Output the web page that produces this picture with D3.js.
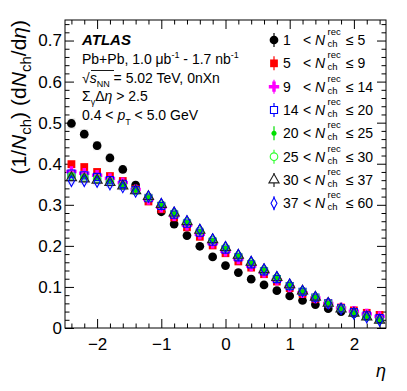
<!DOCTYPE html>
<html><head><meta charset="utf-8">
<script src="https://cdn.jsdelivr.net/npm/d3@7"></script>
<style>body{margin:0;background:#fff}svg{display:block;font-family:"Liberation Sans",Arial,sans-serif}</style>
</head><body><svg id="c" width="407" height="391"></svg>
<script>
const eta = [-2.4,-2.2,-2.0,-1.8,-1.6,-1.4,-1.2,-1.0,-0.8,-0.6,-0.4,-0.2,0.0,0.2,0.4,0.6,0.8,1.0,1.2,1.4,1.6,1.8,2.0,2.2,2.4];
const s1  = [0.498,0.472,0.444,0.414,0.386,0.348,0.312,0.283,0.253,0.225,0.199,0.173,0.152,0.135,0.119,0.105,0.091,0.078,0.067,0.057,0.047,0.040,0.035,0.028,0.022];
const s2  = [0.399,0.392,0.380,0.370,0.358,0.338,0.308,0.289,0.269,0.245,0.222,0.201,0.182,0.162,0.147,0.131,0.113,0.097,0.083,0.071,0.060,0.050,0.043,0.037,0.032];
const s3  = [0.381,0.377,0.372,0.364,0.354,0.337,0.313,0.294,0.273,0.250,0.228,0.206,0.187,0.168,0.151,0.135,0.117,0.100,0.086,0.073,0.060,0.049,0.041,0.034,0.028];
const s4  = [0.376,0.372,0.368,0.360,0.351,0.336,0.316,0.297,0.276,0.254,0.232,0.210,0.191,0.172,0.155,0.138,0.119,0.102,0.088,0.074,0.060,0.048,0.039,0.031,0.024];
const s5  = [0.373,0.369,0.366,0.358,0.349,0.335,0.318,0.299,0.278,0.257,0.235,0.213,0.194,0.175,0.158,0.141,0.121,0.104,0.089,0.075,0.060,0.047,0.037,0.028,0.020];
const s6  = [0.370,0.366,0.363,0.356,0.347,0.334,0.318,0.300,0.279,0.258,0.236,0.214,0.195,0.176,0.159,0.141,0.122,0.104,0.089,0.075,0.060,0.047,0.036,0.027,0.019];
const s7  = [0.366,0.363,0.360,0.354,0.346,0.334,0.320,0.301,0.280,0.259,0.238,0.215,0.196,0.177,0.160,0.142,0.123,0.105,0.090,0.075,0.060,0.046,0.036,0.027,0.019];
const s8  = [0.358,0.358,0.356,0.350,0.343,0.332,0.320,0.302,0.281,0.260,0.239,0.216,0.197,0.178,0.161,0.143,0.124,0.106,0.090,0.075,0.060,0.046,0.035,0.026,0.018];
const binLo = ["1","5","9","14","20","25","30","37"];
const binHi = ["5","9","14","20","25","30","37","60"];
const xTicks = [-2,-1,0,1,2];
const yTicks = [0,0.1,0.2,0.3,0.4,0.5,0.6,0.7];

const series = [s1,s2,s3,s4,s5,s6,s7,s8];
const colors = ["#000000","#ff0000","#ff00ff","#0000ff","#00e000","#33ff33","#222222","#0000ff"];
const styles = [
  {t:"circle", fill:true,  size:60},
  {t:"square", fill:true,  size:60},
  {t:"cross",  fill:true,  size:60},
  {t:"square", fill:false, size:50},
  {t:"circle", fill:true,  size:20},
  {t:"circle", fill:false, size:45},
  {t:"triangle",fill:false,size:45},
  {t:"diamond",fill:false, size:0}
];

const svg = d3.select("#c");
const L=65,R=386,T=20,B=328;
const x = d3.scaleLinear().domain([-2.5,2.5]).range([L,R]);
const y = d3.scaleLinear().domain([0,0.75]).range([B,T]);

function markerPath(st){
  if(st.t==="diamond") return "M0,-5.5L3,0L0,5.5L-3,0Z";
  const map={circle:d3.symbolCircle,square:d3.symbolSquare,cross:d3.symbolCross,triangle:d3.symbolTriangle};
  return d3.symbol().type(map[st.t]).size(st.size)();
}

// axes
const xMinor = d3.range(-2.4,2.5,0.2).map(v=>+v.toFixed(1)).filter(v=>Math.abs(v-Math.round(v))>1e-6);
const yMinor = d3.range(0,0.751,0.02).map(v=>+v.toFixed(2)).filter(v=>Math.abs(v*10-Math.round(v*10))>1e-6);
const fmtY = d=> d===0?"0":d3.format(".1f")(d);

svg.append("g").attr("transform",`translate(0,${B})`)
  .call(d3.axisBottom(x).tickValues(xTicks).tickSize(-9).tickPadding(10).tickFormat(d3.format("d")));
svg.append("g").attr("transform",`translate(0,${B})`)
  .call(d3.axisBottom(x).tickValues(xMinor).tickSize(-4.5).tickFormat(""));
svg.append("g").attr("transform",`translate(0,${T})`)
  .call(d3.axisTop(x).tickValues(xTicks).tickSize(-9).tickFormat(""));
svg.append("g").attr("transform",`translate(0,${T})`)
  .call(d3.axisTop(x).tickValues(xMinor).tickSize(-4.5).tickFormat(""));
svg.append("g").attr("transform",`translate(${L},0)`)
  .call(d3.axisLeft(y).tickValues(yTicks).tickSize(-9).tickPadding(3).tickFormat(fmtY));
svg.append("g").attr("transform",`translate(${L},0)`)
  .call(d3.axisLeft(y).tickValues(yMinor).tickSize(-4.5).tickFormat(""));
svg.append("g").attr("transform",`translate(${R},0)`)
  .call(d3.axisRight(y).tickValues(yTicks).tickSize(-9).tickFormat(""));
svg.append("g").attr("transform",`translate(${R},0)`)
  .call(d3.axisRight(y).tickValues(yMinor).tickSize(-4.5).tickFormat(""));
svg.selectAll(".domain").remove();
svg.selectAll(".tick line").attr("stroke","#000").attr("stroke-width",1);
svg.selectAll(".tick text").attr("font-family","Liberation Sans, Arial, sans-serif").attr("font-size",17).attr("fill","#000");

svg.append("rect").attr("x",L).attr("y",T).attr("width",R-L).attr("height",B-T)
  .attr("fill","none").attr("stroke","#000").attr("stroke-width",1);

// systematic boxes
series.forEach((s,i)=>{
  svg.append("g").selectAll("rect").data(eta.map((e,j)=>[e,s[j]])).join("rect")
    .attr("x",d=>x(d[0]-0.06)).attr("width",x(0.06)-x(-0.06))
    .attr("y",d=>y(d[1]*1.025)).attr("height",d=>y(d[1]*0.975)-y(d[1]*1.025))
    .attr("fill",colors[i]).attr("opacity",0.12);
});
// markers
series.forEach((s,i)=>{
  const st=styles[i];
  svg.append("g").selectAll("path").data(eta.map((e,j)=>[e,s[j]])).join("path")
    .attr("d",markerPath(st))
    .attr("transform",d=>`translate(${x(d[0])},${y(d[1])})`)
    .attr("fill",st.fill?colors[i]:"none")
    .attr("stroke",colors[i]).attr("stroke-width",st.fill?0:1.1);
});

// axis titles
const yt = svg.append("text").attr("transform","translate(26,20) rotate(-90)")
  .attr("text-anchor","end").attr("font-size",21);
yt.append("tspan").text("(1/");
yt.append("tspan").attr("font-style","italic").text("N");
yt.append("tspan").attr("font-size",15).attr("dy",5).text("ch");
yt.append("tspan").attr("dy",-5).text(")");
yt.append("tspan").attr("dx",6).text("(d");
yt.append("tspan").attr("font-style","italic").text("N");
yt.append("tspan").attr("font-size",15).attr("dy",5).text("ch");
yt.append("tspan").attr("dy",-5).text("/d");
yt.append("tspan").attr("font-style","italic").text("η");
yt.append("tspan").text(")");

svg.append("text").attr("x",386).attr("y",377).attr("text-anchor","end")
  .attr("font-size",18).attr("font-style","italic").text("η");

// info text
const tx=82;
svg.append("text").attr("x",tx).attr("y",45).attr("font-size",15).attr("font-weight","bold").attr("font-style","italic").text("ATLAS");
const l2=svg.append("text").attr("x",tx).attr("y",64).attr("font-size",14);
l2.append("tspan").text("Pb+Pb, 1.0 μb");
l2.append("tspan").attr("font-size",9).attr("dy",-6).text("-1");
l2.append("tspan").attr("dy",6).text(" - 1.7 nb");
l2.append("tspan").attr("font-size",9).attr("dy",-6).text("-1");
const l3=svg.append("text").attr("x",tx).attr("y",83).attr("font-size",14);
l3.append("tspan").text("√");
l3.append("tspan").attr("font-style","italic").text("s");
l3.append("tspan").attr("font-size",9).attr("dy",4).text("NN");
l3.append("tspan").attr("dy",-4).text(" = 5.02 TeV, 0nXn");
svg.append("line").attr("x1",tx+9).attr("x2",tx+32).attr("y1",70.5).attr("y2",70.5).attr("stroke","#000").attr("stroke-width",0.9);
const l4=svg.append("text").attr("x",tx).attr("y",101).attr("font-size",14);
l4.append("tspan").text("Σ");
l4.append("tspan").attr("font-size",9).attr("dy",4).text("γ");
l4.append("tspan").attr("dy",-4).text("Δ");
l4.append("tspan").attr("font-style","italic").text("η");
l4.append("tspan").text(" > 2.5");
const l5=svg.append("text").attr("x",tx).attr("y",120).attr("font-size",14);
l5.append("tspan").text("0.4 < ");
l5.append("tspan").attr("font-style","italic").text("p");
l5.append("tspan").attr("font-size",9).attr("dy",5).text("T");
l5.append("tspan").attr("dy",-5).text(" < 5.0 GeV");

// legend
const legY = d3.range(8).map(i=>40+i*23.33);
binLo.forEach((lo,i)=>{
  const cy=legY[i];
  const g=svg.append("g");
  g.append("line").attr("x1",274).attr("x2",274).attr("y1",cy-7).attr("y2",cy+7).attr("stroke",colors[i]).attr("stroke-width",1.2);
  const st=styles[i];
  g.append("path").attr("d",markerPath(st)).attr("transform",`translate(274,${cy})`)
    .attr("fill",st.fill?colors[i]:"#fff").attr("stroke",colors[i]).attr("stroke-width",st.fill?0:1.1);
  g.append("text").attr("x",283).attr("y",cy+5).attr("font-size",14).text(lo);
  g.append("text").attr("x",303).attr("y",cy+5).attr("font-size",14).text("<");
  const nt=g.append("text").attr("x",315).attr("y",cy+5).attr("font-size",14);
  nt.append("tspan").attr("font-style","italic").text("N");
  nt.append("tspan").attr("x",327.5).attr("y",cy-5).attr("font-size",9.5).text("rec");
  nt.append("tspan").attr("x",327.5).attr("y",cy+7).attr("font-size",9.5).text("ch");
  g.append("text").attr("x",346).attr("y",cy+5).attr("font-size",14).text("≤ "+binHi[i]);
});
</script></body></html>
